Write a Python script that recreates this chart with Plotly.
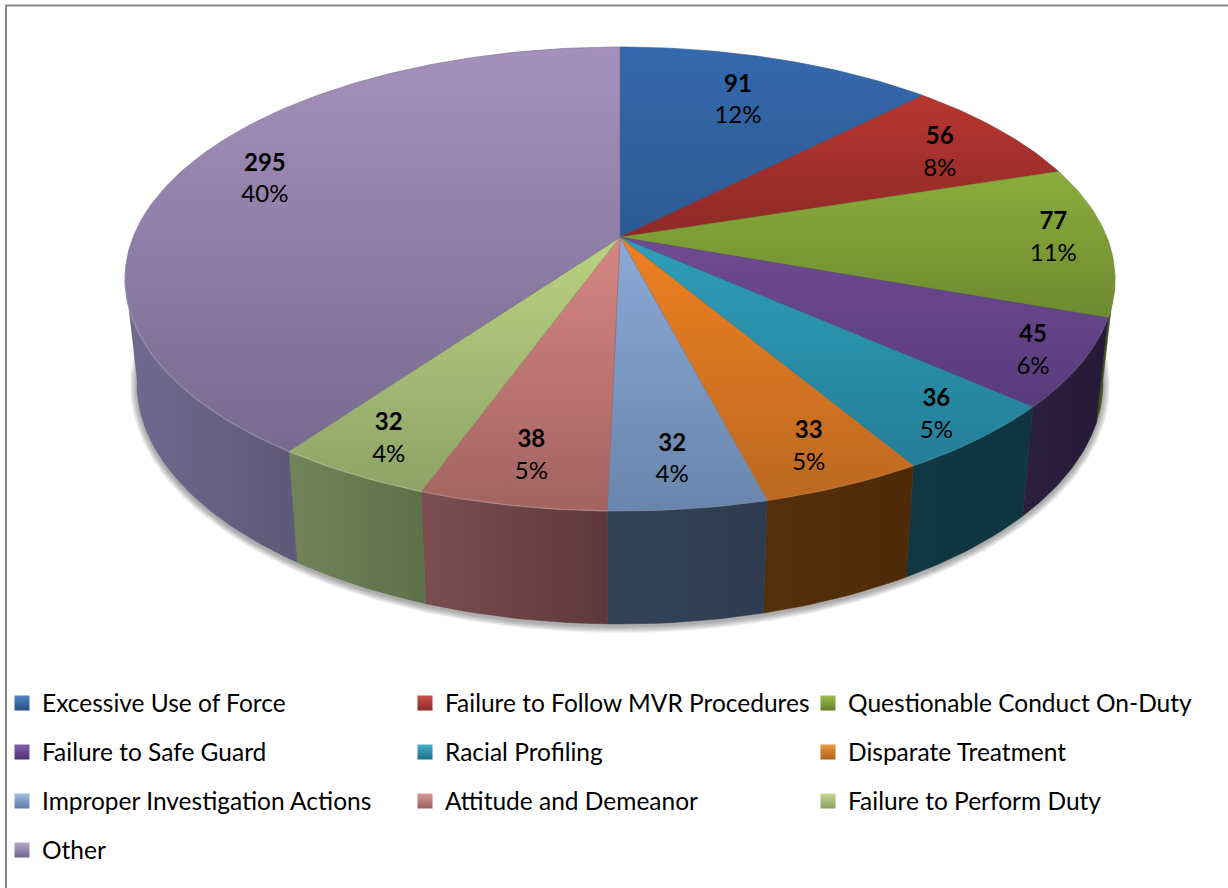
import math
import plotly.graph_objects as go

# ---- data ----
categories = ["Excessive Use of Force", "Failure to Follow MVR Procedures", "Questionable Conduct On-Duty",
              "Failure to Safe Guard", "Racial Profiling", "Disparate Treatment",
              "Improper Investigation Actions", "Attitude and Demeanor", "Failure to Perform Duty", "Other"]
values = [91, 56, 77, 45, 36, 33, 32, 38, 32, 295]
percent_labels = ["12%", "8%", "11%", "6%", "5%", "5%", "4%", "5%", "4%", "40%"]

# ---- styles ----
top_colors = [("#3569ae", "#2b5a92"), ("#b9352f", "#8c2a28"), ("#8bad3b", "#6d8a30"), ("#6f4b93", "#583b7b"),
              ("#2f9eba", "#237e98"), ("#ee8020", "#bc6922"), ("#8aa9d5", "#6985ad"), ("#d68682", "#a26361"),
              ("#bad282", "#8ea367"), ("#a691bd", "#776a90")]
side_colors = [("#1f3d63", "#1f3d63"), ("#5c1f1c", "#5c1f1c"), ("#4a5c20", "#3d4d1a"), ("#2c1f40", "#261a38"),
               ("#103843", "#0e3540"), ("#55300c", "#4e2a08"), ("#344357", "#2f3c50"), ("#7c4e50", "#5d383b"),
               ("#72845a", "#5e7049"), ("#6f6a90", "#5f5878")]
legend_top = ["#4f86c6", "#c9504c", "#9cc04f", "#8460ae", "#48aecb", "#f09a45", "#a3bde0", "#dc9a97", "#c6da94", "#b8a8cc"]
legend_bot = ["#25507f", "#8c2a28", "#64802a", "#4d3370", "#1f7088", "#b0601a", "#5f7da8", "#9c5f5c", "#8a9e60", "#706488"]
label_radius = [0.74, 0.814, 0.89, 0.904, 0.894, 0.863, 0.841, 0.84, 0.872, 0.814]
label_turn_deg = [-0.7, 1.7, -0.9, -0.1, -0.1, -0.1, 0.4, 0.1, 0.3, 2.1]

CX, CY, RX, RY = 620.0, 279.0, 495.0, 232.0      # top ellipse, in axis units
BCY, BRX, BRY = 383.0, 483.0, 241.0              # bottom ellipse
K = 0.18                                         # perspective shift of the pie's centre
FONT = "Lato"


def disc(theta, r=1.0):
    """Project a polar point of the pie (clockwise from 12 o'clock) into the tilted disc."""
    x, y = r * math.sin(theta), r * math.cos(theta)
    d = 1 + K * y
    return x * math.sqrt(1 - K * K) / d, (y + K) / d


def top(nx, ny):
    return CX + nx * RX, CY - ny * RY


def bottom(nx, ny):
    return CX + nx * BRX, BCY - ny * BRY


total = sum(values)
edges = [0.0]
for v in values:
    edges.append(edges[-1] + v / total * 2 * math.pi)

fig = go.Figure()

# soft shadow under the pie
for s in range(7, 0, -1):
    pts = [2 * math.pi * i / 240 for i in range(241)]
    fig.add_trace(go.Scatter(x=[CX + (BRX + s) * math.cos(t) for t in pts],
                             y=[BCY + 2 + (BRY + s) * math.sin(t) for t in pts],
                             mode="lines", line=dict(width=0), fill="toself",
                             fillcolor="rgba(50,50,50,0.07)", hoverinfo="skip", showlegend=False))

arcs = []
for i in range(len(values)):
    n = max(2, int((edges[i + 1] - edges[i]) / math.radians(1)))
    arcs.append([disc(edges[i] + (edges[i + 1] - edges[i]) * j / n) for j in range(n + 1)])

# side wall (front part only)
for i, arc in enumerate(arcs):
    front = [p for p in arc if p[1] <= 0.03]
    if len(front) < 2:
        continue
    t = [top(*p) for p in front]
    b = [bottom(*p) for p in front][::-1]
    xs = [p[0] for p in t + b]
    ys = [p[1] for p in t + b]
    mid = side_colors[i][1]
    fig.add_trace(go.Scatter(x=xs + xs[:1], y=ys + ys[:1], mode="lines", line=dict(width=0.5, color=mid),
                             fill="toself",
                             fillgradient=dict(type="horizontal", start=min(xs), stop=max(xs),
                                               colorscale=[[0, side_colors[i][0]], [1, side_colors[i][1]]]),
                             hoverinfo="skip", showlegend=False, legendgroup=categories[i]))

# top faces
apex = top(*disc(0, 0))
for i, arc in enumerate(arcs):
    pts = [apex] + [top(*p) for p in arc] + [apex]
    xs = [p[0] for p in pts]
    ys = [p[1] for p in pts]
    fig.add_trace(go.Scatter(x=xs, y=ys, mode="lines", line=dict(width=0.6, color=top_colors[i][1]),
                             fill="toself",
                             fillgradient=dict(type="vertical", start=min(ys), stop=max(ys),
                                               colorscale=[[0, top_colors[i][0]], [1, top_colors[i][1]]]),
                             name=categories[i], text=f"{values[i]} ({percent_labels[i]})", hoverinfo="name+text",
                             hoveron="fills", showlegend=False, legendgroup=categories[i]))

# bevel highlight on the front rim
for i, arc in enumerate(arcs):
    front = [top(*p) for p in arc if p[1] <= 0.03]
    if len(front) < 2:
        continue
    alpha = 0.2 if front[0][0] < CX else 0.06
    fig.add_trace(go.Scatter(x=[p[0] for p in front], y=[p[1] for p in front], mode="lines",
                             line=dict(width=1.5, color=f"rgba(255,255,255,{alpha})"),
                             hoverinfo="skip", showlegend=False, legendgroup=categories[i]))

# data labels
lx, ly, lt = [], [], []
for i, v in enumerate(values):
    nx, ny = disc((edges[i] + edges[i + 1]) / 2 + math.radians(label_turn_deg[i]), label_radius[i])
    px, py = top(nx, ny)
    lx.append(px)
    ly.append(py + 2)
    lt.append(f"<b>{v}</b><br>{percent_labels[i]}")
fig.add_trace(go.Scatter(x=lx, y=ly, text=lt, mode="text", textposition="middle center",
                         textfont=dict(family=FONT, size=24, color="#000000"),
                         hoverinfo="skip", showlegend=False))

# legend: one native horizontal legend per row
for i, name in enumerate(categories):
    row = i // 3
    fig.add_trace(go.Scatter(x=[None], y=[None], mode="markers", name=name,
                             marker=dict(symbol="square", size=15, color=legend_top[i],
                                         gradient=dict(type="vertical", color=legend_bot[i]),
                                         line=dict(width=0)),
                             legend="legend" if row == 0 else f"legend{row + 1}",
                             legendgroup=name))

legends = {}
for row, yc in enumerate([703, 752, 801, 850]):
    key = "legend" if row == 0 else f"legend{row + 1}"
    legends[key] = dict(orientation="h", x=2 / 1228, xanchor="left", y=1 - yc / 888, yanchor="middle",
                        entrywidth=358, entrywidthmode="pixels", traceorder="normal",
                        bgcolor="rgba(0,0,0,0)", borderwidth=0,
                        font=dict(family=FONT, size=24.5, color="#000000"))

fig.add_shape(type="path", path="M 6 888 L 6 5.5 L 1228 5.5", xref="x", yref="y",
              line=dict(color="#868686", width=2))

fig.update_layout(width=1228, height=888, margin=dict(l=0, r=0, t=0, b=0),
                  paper_bgcolor="#ffffff", plot_bgcolor="#ffffff", showlegend=True,
                  xaxis=dict(range=[0, 1228], visible=False, fixedrange=True),
                  yaxis=dict(range=[888, 0], visible=False, fixedrange=True),
                  **legends)

fig.write_html("out.html", config={"displayModeBar": False},
               post_script="document.body.style.margin='0';")
